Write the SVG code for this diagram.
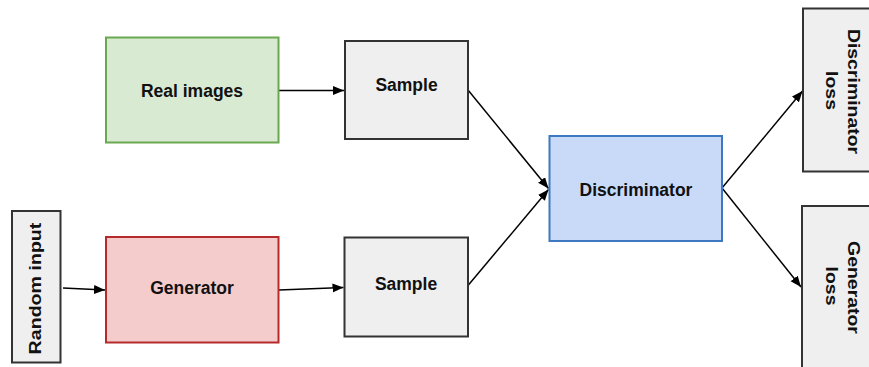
<svg xmlns="http://www.w3.org/2000/svg" width="869" height="367" viewBox="0 0 869 367">
<defs>
<style>
.box{stroke-width:2}
.gray{fill:#efefef;stroke:#333333}
.green{fill:#d9ead3;stroke:#6aa84f}
.red{fill:#f4cccc;stroke:#b52a2a}
.blue{fill:#c9daf8;stroke:#3d78c0}
.t{font-family:"Liberation Sans",Arial,sans-serif;font-weight:bold;font-size:17.5px;fill:#111;text-anchor:middle}
.r{font-family:"Liberation Sans",Arial,sans-serif;font-weight:bold;font-size:17.2px;fill:#111;text-anchor:middle}
.c{fill:none;stroke:#000;stroke-width:1.5}
</style>
<marker id="ah" markerUnits="userSpaceOnUse" markerWidth="12" markerHeight="10" refX="11" refY="4.5" orient="auto">
<path d="M0,0 L11,4.5 L0,9 z" fill="#000"/>
</marker>
</defs>
<rect width="869" height="367" fill="#ffffff"/>
<g id="connectors">
<line class="c" x1="279" y1="90.5" x2="344" y2="90.5" marker-end="url(#ah)"/>
<line class="c" x1="468" y1="90" x2="548.5" y2="188.5" marker-end="url(#ah)"/>
<line class="c" x1="63" y1="288" x2="105" y2="290" marker-end="url(#ah)"/>
<line class="c" x1="279" y1="290" x2="343.5" y2="287.5" marker-end="url(#ah)"/>
<line class="c" x1="468" y1="285.5" x2="548.5" y2="189.5" marker-end="url(#ah)"/>
<line class="c" x1="722" y1="188" x2="802.5" y2="91" marker-end="url(#ah)"/>
<line class="c" x1="722" y1="188" x2="801" y2="287" marker-end="url(#ah)"/>
</g>
<g id="real-images">
<rect class="box green" x="106" y="37.5" width="172.5" height="105"/>
<text class="t" x="192" y="96.5">Real images</text>
</g>
<g id="sample-1">
<rect class="box gray" x="345" y="41" width="123" height="98"/>
<text class="t" x="406.5" y="91">Sample</text>
</g>
<g id="random-input">
<rect class="box gray" x="12" y="211" width="48.5" height="151.5"/>
<text class="r" transform="translate(40.5,288.5) rotate(-90) scale(1.14,1)">Random input</text>
</g>
<g id="generator">
<rect class="box red" x="106" y="237" width="172.5" height="105.5"/>
<text class="t" x="192" y="293.5">Generator</text>
</g>
<g id="sample-2">
<rect class="box gray" x="344.5" y="237.5" width="123.5" height="99"/>
<text class="t" x="406" y="290">Sample</text>
</g>
<g id="discriminator">
<rect class="box blue" x="549.5" y="136" width="172.5" height="105"/>
<text class="t" x="636" y="195.5">Discriminator</text>
</g>
<g id="discriminator-loss">
<rect class="box gray" x="803" y="8.5" width="70" height="163"/>
<text class="r" transform="translate(848,91.5) rotate(90) scale(1.13,1)">Discriminator</text>
<text class="r" transform="translate(825.5,90.5) rotate(90) scale(1.13,1)">loss</text>
</g>
<g id="generator-loss">
<rect class="box gray" x="802" y="206" width="70" height="170"/>
<text class="r" transform="translate(848,287.5) rotate(90) scale(1.13,1)">Generator</text>
<text class="r" transform="translate(825.5,286) rotate(90) scale(1.13,1)">loss</text>
</g>
</svg>
